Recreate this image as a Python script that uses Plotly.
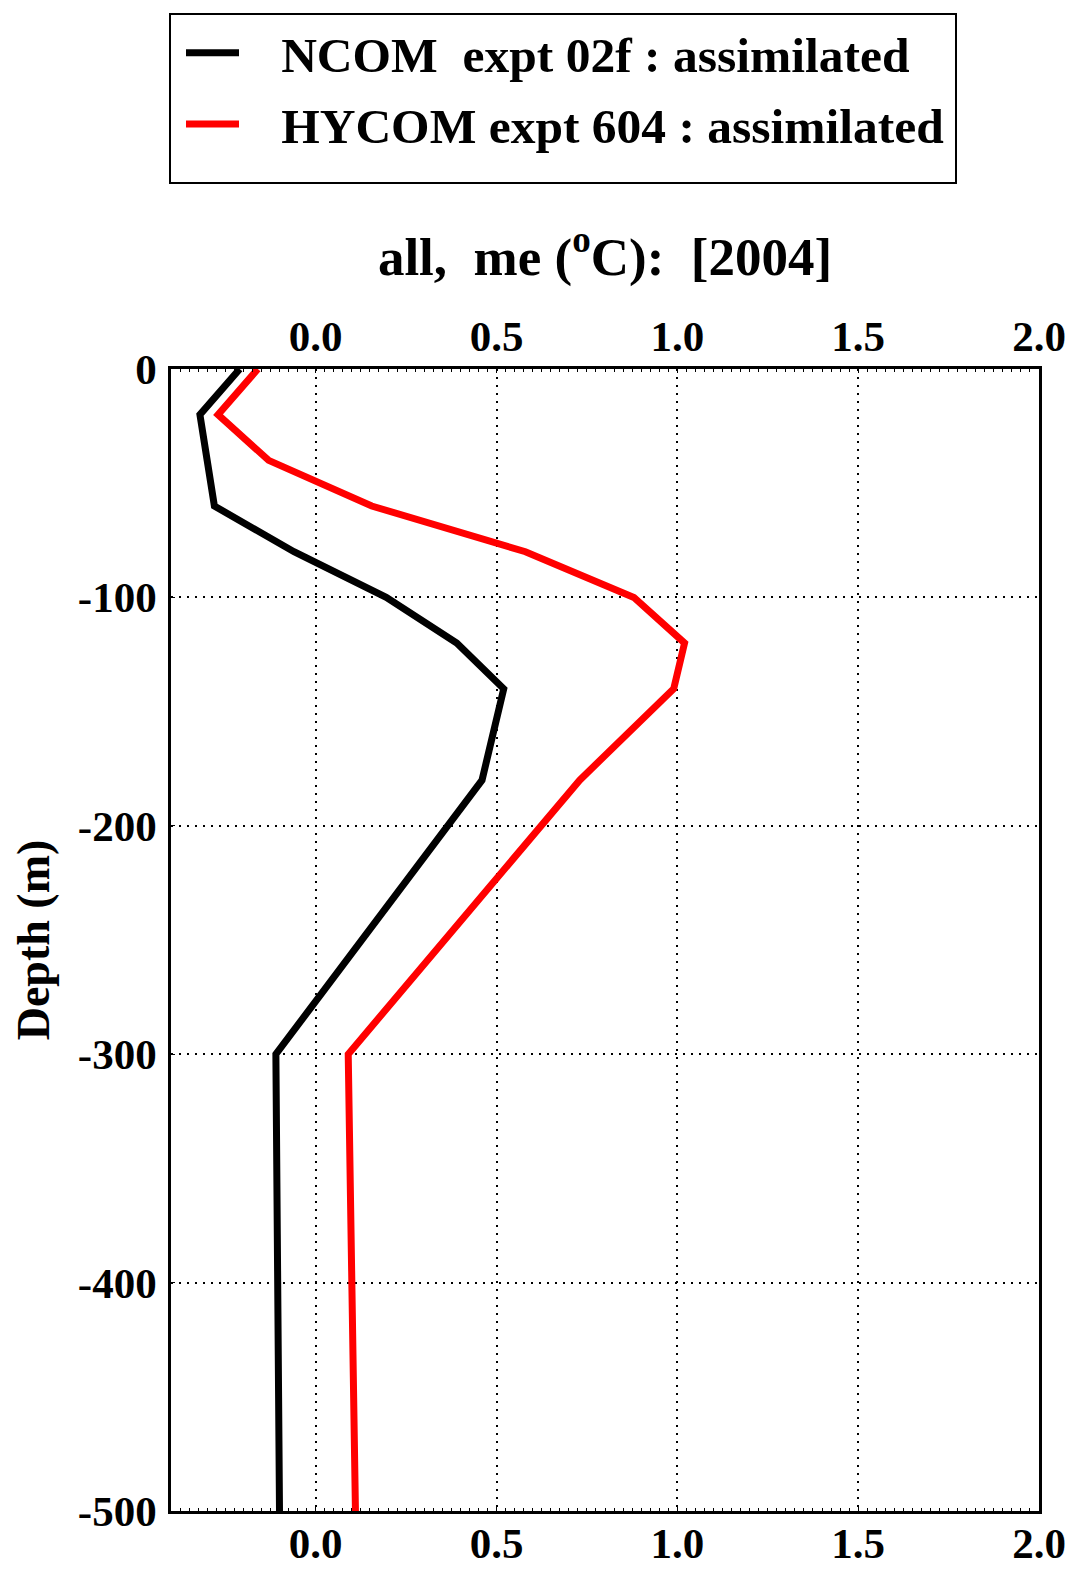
import plotly.graph_objects as go

# Depth levels (m)
depth = [0, -20, -40, -60, -80, -100, -120, -140, -180, -300, -500]
# Mean error (deg C)
ncom_me = [-0.21, -0.32, -0.30, -0.28, -0.06, 0.195, 0.39, 0.52, 0.46, -0.11, -0.10]
hycom_me = [-0.16, -0.27, -0.13, 0.155, 0.58, 0.88, 1.02, 0.99, 0.73, 0.09, 0.11]

names = ["NCOM&nbsp; expt 02f : assimilated", "HYCOM expt 604 : assimilated"]
colors = ["black", "#ff0000"]

xtickvals = [0.0, 0.5, 1.0, 1.5, 2.0]
xticktext = ["0.0", "0.5", "1.0", "1.5", "2.0"]
ytickvals = [0, -100, -200, -300, -400, -500]
yticktext = ["0", "-100", "-200", "-300", "-400", "-500"]

FONT = "Liberation Serif"
PAD = "&nbsp;&nbsp;&nbsp;"

# page layout (px)
W, H = 1078, 1575
L, R, T, B = 163, 47, 361, 72
PW, PH = W - L - R, H - T - B


def px_x(p):
    return (p - L) / PW


def px_y(p):
    return 1 + (T - p) / PH


fig = go.Figure()
for i, (vals, name, col) in enumerate(zip([ncom_me, hycom_me], names, colors)):
    fig.add_trace(go.Scatter(x=vals, y=depth, mode="lines", name="<b>" + PAD + name + "</b>",
                             legendgroup="g%d" % i,
                             line=dict(color=col, width=7)))
# invisible copy to activate the top x axis
fig.add_trace(go.Scatter(x=ncom_me, y=depth, mode="lines", xaxis="x2", showlegend=False,
                         hoverinfo="skip", opacity=0, line=dict(width=0)))

xcommon = dict(range=[-0.4, 2.0], tickvals=xtickvals,
               ticktext=["<b>%s</b>" % t for t in xticktext],
               showline=True, linecolor="black", linewidth=2.5,
               ticks="inside", ticklen=4, tickcolor="black", tickwidth=1,
               minor=dict(ticks="inside", ticklen=3, dtick=0.025, tickcolor="black", tickwidth=1),
               tickfont=dict(family=FONT, size=43, color="black"),
               zeroline=False, automargin=False)

fig.update_layout(
    width=W, height=H,
    paper_bgcolor="white", plot_bgcolor="white",
    margin=dict(l=L, r=R, t=T, b=B, autoexpand=False),
    font=dict(family=FONT, color="black"),
    title=dict(text="<b>all,&nbsp; me (<sup>o</sup>C):&nbsp; [2004]</b>",
               x=0.5, xref="paper", y=1 - 248 / H, yref="container", yanchor="middle",
               xanchor="center", font=dict(family=FONT, size=53, color="black")),
    xaxis=dict(**xcommon, side="bottom", showgrid=True, gridcolor="black", gridwidth=2,
               griddash="2px,6px", ticklabelstandoff=-7),
    xaxis2=dict(**xcommon, side="top", overlaying="x", matches="x", showgrid=False,
                ticklabelstandoff=-2),
    yaxis=dict(range=[-500, 0], tickvals=ytickvals,
               ticktext=["<b>%s</b>" % t for t in yticktext],
               showline=True, mirror=True, linecolor="black",
               linewidth=2.5, ticks="inside", ticklen=4, tickcolor="black",
               showgrid=True, gridcolor="black", gridwidth=2, griddash="2px,6px",
               zeroline=False, ticklabelstandoff=3, automargin=False,
               tickfont=dict(family=FONT, size=43, color="black"),
               title=dict(text="<b>Depth (m)</b>", standoff=14,
                          font=dict(family=FONT, size=46, color="black"))),
    legend=dict(x=px_x(L + 10), xanchor="left", y=px_y(6), yanchor="top",
                borderwidth=0, bgcolor="rgba(0,0,0,0)",
                font=dict(family=FONT, size=49.5, color="black"),
                itemwidth=53, tracegroupgap=4),
    shapes=[dict(type="rect", xref="paper", yref="paper",
                 x0=px_x(L - 1), x1=px_x(948), y0=px_y(6), y1=px_y(175),
                 line=dict(color="black", width=2), fillcolor="rgba(0,0,0,0)")],
    showlegend=True,
)

fig.write_html("out.html")
